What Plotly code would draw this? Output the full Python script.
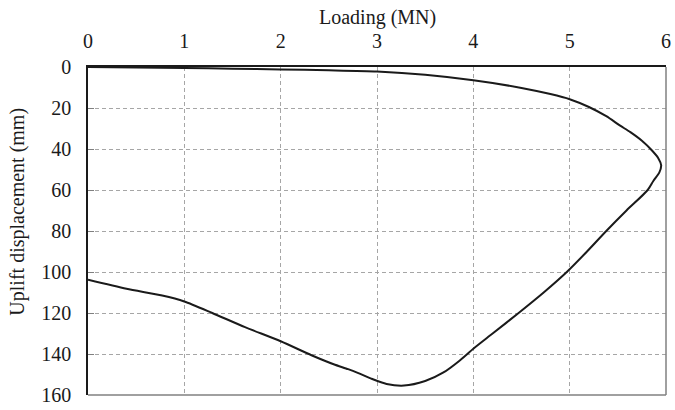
import plotly.graph_objects as go

loading_mn = [0.0, 0.5, 1.0, 1.5, 2.0, 2.5, 3.0, 3.5, 4.0, 4.5, 4.8, 5.0, 5.2, 5.38, 5.52, 5.63,
              5.75, 5.85, 5.92, 5.95, 5.93, 5.87, 5.81, 5.59, 5.38, 5.18, 4.97, 4.73, 4.47, 4.2,
              4.0, 3.85, 3.69, 3.5, 3.28, 3.1, 2.94, 2.8, 2.7, 2.55, 2.32, 2.0, 1.63, 1.29,
              1.0, 0.77, 0.4, 0.0]
uplift_mm = [0.0, 0.2, 0.5, 0.8, 1.2, 1.6, 2.2, 3.8, 6.5, 10.2, 13.2, 15.7, 19.5, 24.0, 28.5, 31.8,
             36.0, 40.5, 44.5, 48.0, 51.5, 55.5, 60.0, 70.0, 80.0, 90.0, 100.0, 110.0, 120.0, 130.0,
             137.4, 143.5, 149.0, 153.2, 155.4, 154.6, 152.0, 149.2, 147.4, 145.0, 140.6, 133.8, 126.9, 120.0,
             114.4, 111.5, 108.2, 103.8]

x_ticks = [0, 1, 2, 3, 4, 5, 6]
y_ticks = [0, 20, 40, 60, 80, 100, 120, 140, 160]
x_title = "Loading (MN)"
y_title = "Uplift displacement (mm)"

FONT = "Liberation Serif"
FS = 20
INK = "#1a1a1a"

fig = go.Figure()
fig.add_trace(go.Scatter(
    x=loading_mn, y=uplift_mm, mode="lines",
    line=dict(color=INK, width=2, shape="spline", smoothing=0.7),
    showlegend=False, hoverinfo="skip"))

fig.update_layout(
    width=675, height=410,
    margin=dict(l=88, r=4, t=67, b=13),
    paper_bgcolor="white", plot_bgcolor="white",
    font=dict(family=FONT, size=FS, color=INK),
    xaxis=dict(
        side="top", range=[0, 6], tickvals=x_ticks, ticktext=[str(v) for v in x_ticks],
        showgrid=True, gridcolor="#a6a6a6", griddash="4px,3px", gridwidth=1,
        showline=True, linecolor=INK, linewidth=1.5,
        zeroline=False, ticks="", ticklen=0, ticklabelstandoff=9,
        ticklabeloverflow="allow",
    ),
    yaxis=dict(
        range=[160, 0], tickvals=y_ticks, ticktext=[str(v) for v in y_ticks],
        showgrid=True, gridcolor="#a6a6a6", griddash="4px,3px", gridwidth=1,
        showline=True, linecolor=INK, linewidth=1.5,
        zeroline=False, ticks="inside", ticklen=6, tickcolor="#808080", tickwidth=1,
        ticklabelstandoff=11, ticklabeloverflow="allow",
    ),
    annotations=[
        dict(text=x_title, xref="paper", yref="paper", x=0.5, y=1, xanchor="center",
             yanchor="middle", yshift=50, showarrow=False, font=dict(family=FONT, size=FS, color=INK)),
        dict(text=y_title, xref="paper", yref="paper", x=0, y=0.559, xanchor="center",
             yanchor="middle", xshift=-70, textangle=-90, showarrow=False,
             font=dict(family=FONT, size=FS, color=INK)),
    ],
)

# right and bottom frame lines (gray)
fig.add_shape(type="line", xref="x domain", yref="y domain", x0=1, x1=1, y0=0, y1=1,
              line=dict(color="#808080", width=1.5))
fig.add_shape(type="line", xref="x domain", yref="y domain", x0=0, x1=1, y0=0, y1=0,
              line=dict(color="#808080", width=1.5))

fig.write_html("out.html")
